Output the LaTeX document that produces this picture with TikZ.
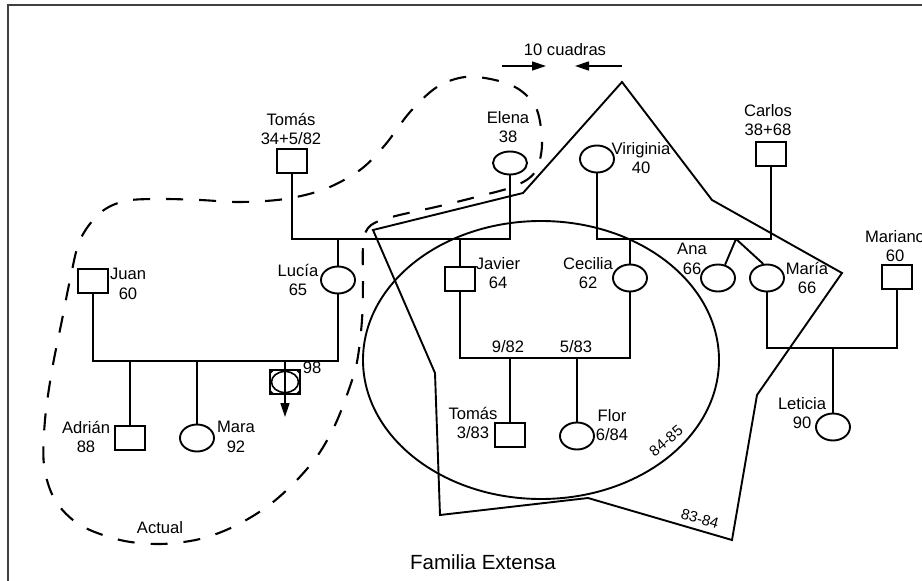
\documentclass[tikz,border=0pt]{standalone}
\usepackage{fontspec}
\setmainfont{Liberation Sans}
\usetikzlibrary{shapes.geometric,arrows.meta}
\begin{document}
\begin{tikzpicture}[x=1pt,y=-1pt,
  ln/.style={line width=1.9pt,line join=miter},
  male/.style={draw,line width=1.9pt,rectangle,minimum width=30pt,minimum height=24pt,inner sep=0pt},
  female/.style={draw,line width=1.9pt,ellipse,minimum width=34pt,minimum height=27pt,inner sep=0pt},
  lbl/.style={font=\fontsize{16.6}{19.5}\selectfont,align=center,inner sep=0pt},
  small/.style={font=\fontsize{15}{17}\selectfont,inner sep=0pt},
  bound/.style={line width=1.9pt,line join=miter},
  dashbound/.style={line width=2.1pt,dash pattern=on 17pt off 16pt},
  tip/.style={-{Triangle[length=14pt,width=9pt]}}
]
\useasboundingbox (0,0) rectangle (922,581);
\clip (0,0) rectangle (922,581);
\fill[white] (0,0) rectangle (922,581);
% frame
\draw[line width=2.5pt,black!75] (8,600) -- (8,5) -- (940,5);

% ---- people ----
\node[male]   (tomas)   at (292,161) {};
\node[female,minimum height=23pt] (elena) at (510,163) {};
\node[female] (virginia) at (597,159) {};
\node[male]   (carlos)  at (771,154) {};
\node[male]   (juan)    at (93,281) {};
\node[female] (lucia)   at (338,280) {};
\node[male]   (javier)  at (460,279) {};
\node[female] (cecilia) at (630,278) {};
\node[female] (ana)     at (718,278) {};
\node[female] (maria)   at (767,278) {};
\node[male]   (mariano) at (897,277) {};
\node[male]   (adrian)  at (130,438) {};
\node[female] (mara)    at (197,438) {};
\node[male]   (tomas2)  at (510,435) {};
\node[female] (flor)    at (577,436) {};
\node[female] (leticia) at (833,427) {};

% miscarriage symbol 98
\node[draw,line width=1.6pt,rectangle,minimum width=30pt,minimum height=24pt,inner sep=0pt] (ab) at (285,382) {};
\node[draw,line width=1.6pt,ellipse,minimum width=27pt,minimum height=21pt,inner sep=0pt] (abe) at (285,382) {};
\fill (ab.north west) -- ++(6,0) -- ++(-6,6) -- cycle;
\fill (ab.north east) -- ++(-6,0) -- ++(6,6) -- cycle;
\fill (ab.south west) -- ++(6,0) -- ++(-6,-6) -- cycle;
\fill (ab.south east) -- ++(-6,0) -- ++(6,-6) -- cycle;
\coordinate (abtip) at (285,417);

% ---- connectors ----
\draw[ln] (tomas.south) -- (tomas.south |- 0,239) -| (elena.south);
\draw[ln] (lucia.north) -- (lucia.north |- 0,239);
\draw[ln] (javier.north) -- (javier.north |- 0,239);
\draw[ln] (virginia.south) -- (virginia.south |- 0,239) -| (carlos.south);
\draw[ln] (cecilia.north) -- (cecilia.north |- 0,239);
\coordinate (am) at (736,239);
\draw[ln] (am) -- (ana.62);
\draw[ln] (am) -- (maria.105);
\draw[ln] (juan.south) -- (juan.south |- 0,361) -| (lucia.south);
\draw[ln] (adrian.north) -- (adrian.north |- 0,361);
\draw[ln] (mara.north) -- (mara.north |- 0,361);
\draw[line width=1.6pt,tip] (ab.center |- 0,361) -- (abtip);
\draw[ln] (javier.south) -- (javier.south |- 0,358) -| (cecilia.south);
\draw[ln] (tomas2.north) -- (tomas2.north |- 0,358);
\draw[ln] (flor.north) -- (flor.north |- 0,358);
\draw[ln] (maria.south) -- (maria.south |- 0,348) -| (mariano.south);
\draw[ln] (leticia.north) -- (leticia.north |- 0,348);

% ---- labels ----
\node[lbl] (tomasL)   at (291,129) {Tomás\\34+5/82};
\node[lbl] (elenaL)   at (508,127) {Elena\\38};
\node[lbl] (virgL)    at (641,158) {Viriginia\\40};
\node[lbl] (carlosL)  at (768,120) {Carlos\\38+68};
\node[lbl] (marianoL) at (895,246) {Mariano\\60};
\node[lbl] (juanL)    at (128,284) {Juan\\60};
\node[lbl] (luciaL)   at (298,280) {Lucía\\65};
\node[lbl] (javierL)  at (498,273) {Javier\\64};
\node[lbl] (ceciliaL) at (588,273) {Cecilia\\62};
\node[lbl] (anaL)     at (692,259) {Ana\\66};
\node[lbl] (mariaL)   at (807,278) {María\\66};
\node[lbl] (adrianL)  at (86,437)  {Adrián\\88};
\node[lbl] (maraL)    at (236,437) {Mara\\92};
\node[lbl] (abL)      at (312,368) {98};
\node[lbl] (tomas2L)  at (473,423) {Tomás\\3/83};
\node[lbl] (florL)    at (612,425) {Flor\\6/84};
\node[lbl] (leticiaL) at (802,413) {Leticia\\90};
\node[lbl] (d1)       at (508,347) {9/82};
\node[lbl] (d2)       at (576,347) {5/83};
\node[lbl] (actualL)  at (160,528) {Actual};
\node[lbl] (cuadras)  at (565,50)  {10 cuadras};
\node[lbl,font=\fontsize{20.5}{23}\selectfont] (famL) at (483,562) {Familia Extensa};

% 10 cuadras arrows
\coordinate (a1s) at (502,66); \coordinate (a1e) at (546,66);
\coordinate (a2s) at (622,66); \coordinate (a2e) at (575,66);
\draw[line width=1.6pt,tip] (a1s) -- (a1e);
\draw[line width=1.6pt,tip] (a2s) -- (a2e);

% ---- extended family boundaries ----
\draw[bound] (373,230) -- (523,193) -- (622,82) -- (712,200) -- (842,273)
  -- (757,395) -- (732,540) -- (588,498) -- (440,515) -- (435,373) -- cycle;
\node[small,rotate=-16] (l8384) at (700,519) {83-84};

\draw[bound] (541,360) ellipse [x radius=178, y radius=139];
\node[small,rotate=40] (l8485) at (666,441) {84-85};

% ---- current household (dashed) ----
\draw[dashbound] plot[smooth cycle,tension=0.55] coordinates {
 (465,77) (437,87) (410,112) (385,145) (360,170) (325,189) (285,199)
 (240,202) (200,200) (160,199) (125,201) (100,213) (80,240) (70,280)
 (62,320) (52,370) (45,420) (44,465) (55,500) (80,525) (120,540)
 (160,544) (200,539) (235,526) (268,506) (295,482) (318,455) (335,425)
 (348,392) (357,362) (362,320) (363,280) (363,248) (368,228) (388,218)
 (440,206) (480,196) (515,186) (535,172) (542,145) (537,110) (520,90) (495,80)};
\end{tikzpicture}
\end{document}
